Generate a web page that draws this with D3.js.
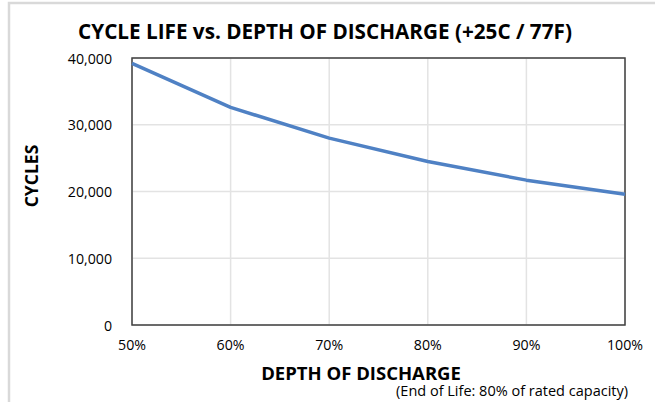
<!DOCTYPE html>
<html>
<head>
<meta charset="utf-8">
<script src="https://cdn.jsdelivr.net/npm/d3@7"></script>
<style>
  body { margin: 0; background: #fff; }
  svg text { font-family: "Open Sans", sans-serif; fill: #000; }
</style>
</head>
<body>
<div id="chart"></div>
<script>
// depth of discharge (%) and cycle counts
const depths = [50, 60, 70, 80, 90, 100];
const cycles = [39200, 32600, 28000, 24500, 21700, 19600];
const yTicks = [0, 10000, 20000, 30000, 40000];

const width = 655, height = 402;
const margin = {top: 58, right: 30, bottom: 77, left: 132};

const svg = d3.select("#chart").append("svg")
    .attr("width", width)
    .attr("height", height);

// outer chart frame (only top/left show in the crop)
svg.append("rect")
    .attr("x", 9).attr("y", 3)
    .attr("width", width + 20).attr("height", height + 20)
    .attr("fill", "none")
    .attr("stroke", "#d9d9d9")
    .attr("stroke-width", 2.5);

const x = d3.scaleLinear().domain([50, 100]).range([margin.left, width - margin.right]);
const y = d3.scaleLinear().domain([0, 40000]).range([height - margin.bottom, margin.top]);

// gridlines
svg.append("g").selectAll("line")
    .data(yTicks)
    .enter().append("line")
    .attr("x1", x(50)).attr("x2", x(100))
    .attr("y1", d => y(d)).attr("y2", d => y(d))
    .attr("stroke", "#e3e3e3").attr("stroke-width", 1.5);

svg.append("g").selectAll("line")
    .data(depths)
    .enter().append("line")
    .attr("x1", d => x(d)).attr("x2", d => x(d))
    .attr("y1", y(0)).attr("y2", y(40000))
    .attr("stroke", "#e3e3e3").attr("stroke-width", 1.5);

// plot border
svg.append("rect")
    .attr("x", x(50)).attr("y", y(40000))
    .attr("width", x(100) - x(50)).attr("height", y(0) - y(40000))
    .attr("fill", "none")
    .attr("stroke", "#404040")
    .attr("stroke-width", 1.5);

// tick labels
const fmt = d3.format(",");
svg.append("g").selectAll("text")
    .data(yTicks)
    .enter().append("text")
    .attr("x", 112)
    .attr("y", d => y(d) + 5.5)
    .attr("text-anchor", "end")
    .attr("font-size", 14.2)
    .text(d => fmt(d));

svg.append("g").selectAll("text")
    .data(depths)
    .enter().append("text")
    .attr("x", d => x(d))
    .attr("y", 350)
    .attr("text-anchor", "middle")
    .attr("font-size", 14.2)
    .text(d => d + "%");

// the line
const line = d3.line()
    .x((d, i) => x(depths[i]))
    .y(d => y(d));

svg.append("path")
    .datum(cycles)
    .attr("d", line)
    .attr("fill", "none")
    .attr("stroke", "#4f81c4")
    .attr("stroke-width", 3.5)
    .attr("stroke-linejoin", "round");

// titles
svg.append("text")
    .attr("x", 325).attr("y", 39)
    .attr("text-anchor", "middle")
    .attr("font-size", 20.7)
    .attr("font-weight", "bold")
    .text("CYCLE LIFE vs. DEPTH OF DISCHARGE (+25C / 77F)");

svg.append("text")
    .attr("x", 361).attr("y", 380)
    .attr("text-anchor", "middle")
    .attr("font-size", 18.5)
    .attr("font-weight", "bold")
    .text("DEPTH OF DISCHARGE");

svg.append("text")
    .attr("transform", "translate(38,176) rotate(-90)")
    .attr("text-anchor", "middle")
    .attr("font-size", 17.5)
    .attr("font-weight", "bold")
    .text("CYCLES");

svg.append("text")
    .attr("x", 628).attr("y", 396)
    .attr("text-anchor", "end")
    .attr("font-size", 14.5)
    .text("(End of Life: 80% of rated capacity)");
</script>
</body>
</html>
